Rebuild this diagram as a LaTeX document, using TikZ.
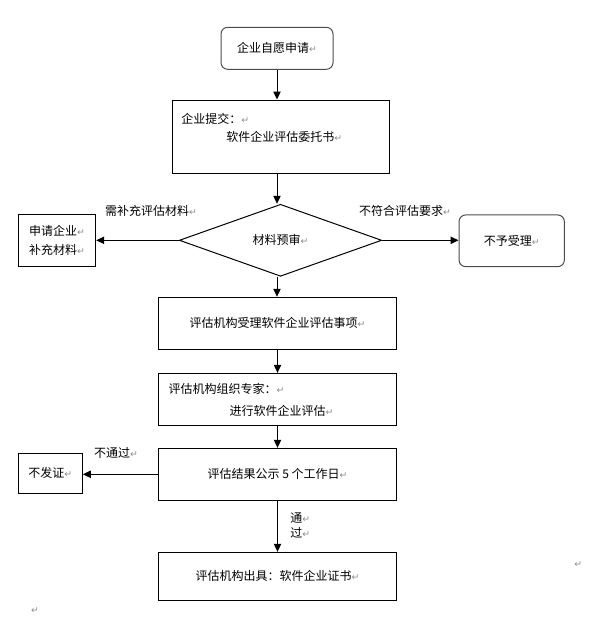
\documentclass[tikz,border=0pt]{standalone}
\usepackage{fontspec}
\setmainfont{Noto Sans CJK SC}
\newfontfamily\markfont{DejaVu Sans}
\usepackage{xcolor}
\usetikzlibrary{shapes.geometric,arrows.meta}
\newcommand{\retmark}{{\markfont\fontsize{7pt}{7pt}\selectfont\color{black!45}↵}}

\begin{document}
\begin{tikzpicture}[x=0.75pt,y=-0.75pt,
    font=\fontsize{9pt}{11pt}\selectfont,
    box/.style={draw,line width=0.75pt,inner sep=0pt},
    roundbox/.style={box,draw=black!70,rounded corners=5pt},
    txt/.style={inner sep=0pt,anchor=west},
    arr/.style={line width=0.75pt,-{Triangle[length=6pt,width=5.5pt]}}]
        \useasboundingbox (0,0) rectangle (594,617);
        \node[roundbox,minimum width=84pt,minimum height=31.5pt] (start) at (277,48.3) {企业自愿申请\retmark};
        \node[box,minimum width=162.5pt,minimum height=55pt] (submit) at (281,136.7) {};
        \node[txt] (submit1) at (181,119) {企业提交：\retmark};
        \node[txt] (submit2) at (226,137) {软件企业评估委托书\retmark};
        \node[diamond,box,minimum width=151.8pt,minimum height=54pt] (check) at (280.5,240.3) {材料预审\retmark};
        \node[box,align=left,minimum width=58pt,minimum height=39pt,font=\fontsize{9pt}{14.7pt}\selectfont] (supp) at (57,240.3) {申请企业\retmark\\补充材料\retmark};
        \node[roundbox,minimum width=79pt,minimum height=38.8pt] (reject) at (511.7,240.8) {不予受理\retmark};
        \node[box,minimum width=178.8pt,minimum height=39pt] (accept) at (277.5,323.3) {评估机构受理软件企业评估事项\retmark};
        \node[box,minimum width=178.8pt,minimum height=38.8pt] (expert) at (277.5,399.2) {};
        \node[txt] (expert1) at (168.3,389.3) {评估机构组织专家：\retmark};
        \node[txt] (expert2) at (229.3,410.7) {进行软件企业评估\retmark};
        \node[box,minimum width=178.8pt,minimum height=39pt] (pub) at (277.5,474.3) {评估结果公示 5 个工作日\retmark};
        \node[box,minimum width=48pt,minimum height=30pt] (nocert) at (50.3,473.3) {不发证\retmark};
        \node[box,minimum width=178.8pt,minimum height=36pt] (cert) at (277.5,576.3) {评估机构出具：软件企业证书\retmark};

        \node (needlbl) at (151,210.7) {需补充评估材料\retmark};
        \node (rejlbl) at (405,210.7) {不符合评估要求\retmark};
        \node (faillbl) at (116,452.7) {不通过\retmark};
        \node[txt,align=left,font=\fontsize{9pt}{10.8pt}\selectfont] (passlbl) at (290,525.5) {通\retmark\\过\retmark};
        \node (mark1) at (578.3,564.3) {\retmark};
        \node (mark2) at (35,611) {\retmark};

        \draw[arr] (start.south) -- (start.south |- submit.north);
        \draw[arr] (submit.south -| start) -- (check.north -| start);
        \draw[arr] (check.south -| start) -- (accept.north -| start);
        \draw[arr] (check.west) -- (supp.east);
        \draw[arr] (check.east) -- (check.east -| reject.west);
        \draw[arr] (accept) -- (expert);
        \draw[arr] (expert) -- (pub);
        \draw[arr] (pub) -- (cert);
        \draw[arr] (pub.west) -- (pub.west -| nocert.east);
      \end{tikzpicture}
\end{document}
